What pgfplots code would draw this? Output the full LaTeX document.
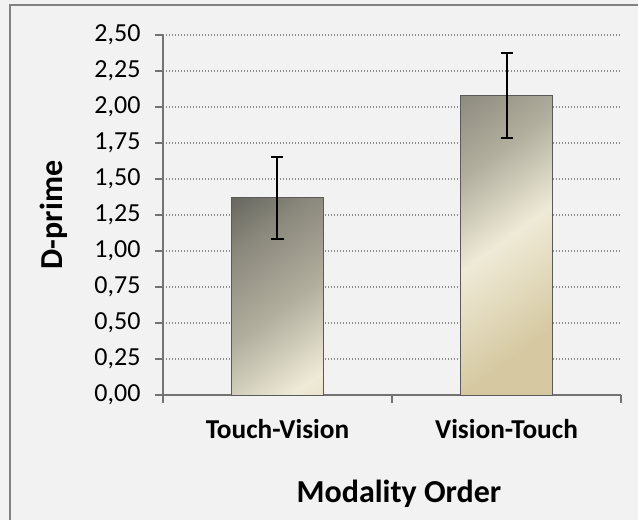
\documentclass[border=0pt]{standalone}
\usepackage{pgfplots}
\pgfplotsset{compat=1.18}
\usepackage{fontspec}
\setmainfont{Carlito}
\definecolor{bg}{RGB}{242,242,242}
\definecolor{frame}{RGB}{130,130,130}
\definecolor{axgray}{RGB}{115,115,115}
\definecolor{gridgray}{RGB}{140,140,140}
\definecolor{bedge}{RGB}{90,90,90}
\definecolor{bdark}{RGB}{88,88,83}
\definecolor{bgray}{RGB}{138,136,124}
\definecolor{bmid}{RGB}{178,175,158}
\definecolor{bcream}{RGB}{239,234,215}
\definecolor{blight}{RGB}{228,220,192}
\definecolor{btan}{RGB}{214,201,162}
\pgfdeclareverticalshading{barshade}{100bp}{color(0bp)=(btan); color(24bp)=(btan); color(33bp)=(blight); color(40bp)=(bcream); color(52bp)=(bmid); color(64bp)=(bgray); color(75bp)=(bdark); color(100bp)=(bdark)}
\begin{document}
\begin{tikzpicture}
\fill[bg] (-175bp,-135bp) rectangle (490bp,405bp);
\draw[frame, line width=2bp] (-153bp,-135bp) -- (-153bp,390bp) -- (490bp,390bp);
\begin{axis}[
  scale only axis,
  width=458bp, height=360bp,
  xmin=0.5, xmax=2.5, ymin=0, ymax=2.5,
  axis x line*=bottom, axis y line*=left,
  axis line style={axgray, line width=1.5bp, -},
  tick style={axgray, line width=1.5bp},
  tick align=outside,
  major tick length=8bp,
  xtick={0.5,1.5,2.5}, xticklabels={},
  extra x ticks={1,2},
  extra x tick labels={Touch-Vision,Vision-Touch},
  extra x tick style={major tick length=0pt, xmajorgrids=false,
    xticklabel style={font=\fontsize{27.3bp}{30bp}\selectfont\bfseries, yshift=-21bp}},
  ytick={0,0.25,0.5,0.75,1,1.25,1.5,1.75,2,2.25,2.5},
  yticklabel style={font=\fontsize{26bp}{30bp}\selectfont, xshift=-11bp, /pgf/number format/.cd, fixed, fixed zerofill, precision=2, use comma, assume math mode=true},
  ymajorgrids,
  major grid style={gridgray, line width=1.2bp, dash pattern=on 1.2bp off 1.8bp},
  xlabel={Modality Order},
  ylabel={D-prime},
  xlabel style={font=\fontsize{32bp}{36bp}\selectfont\bfseries, at={(axis description cs:0.5,0)}, anchor=north, yshift=-82bp, xshift=7bp},
  ylabel style={font=\fontsize{32bp}{36bp}\selectfont\bfseries, yshift=20bp},
  bar width=92bp,
  clip=false,
]
\addplot[ybar, bar shift=0pt, draw=bedge, line width=0.8bp, shade, shading=barshade, shading angle=36]
  table {
x y
1 1.37
2 2.08
};
\addplot[draw=none, mark=none, forget plot,
  error bars/.cd, y dir=both, y explicit,
  error bar style={draw=black, solid, line width=2bp},
  error mark options={draw=black, solid, rotate=90, mark size=6bp, line width=2bp}]
  table[x=x, y=y, y error=e] {
x y e
1 1.37 0.285
2 2.08 0.295
};
\end{axis}
\pgfresetboundingbox
\path (-163bp,-125bp) rectangle (475bp,395bp);
\end{tikzpicture}
\end{document}
